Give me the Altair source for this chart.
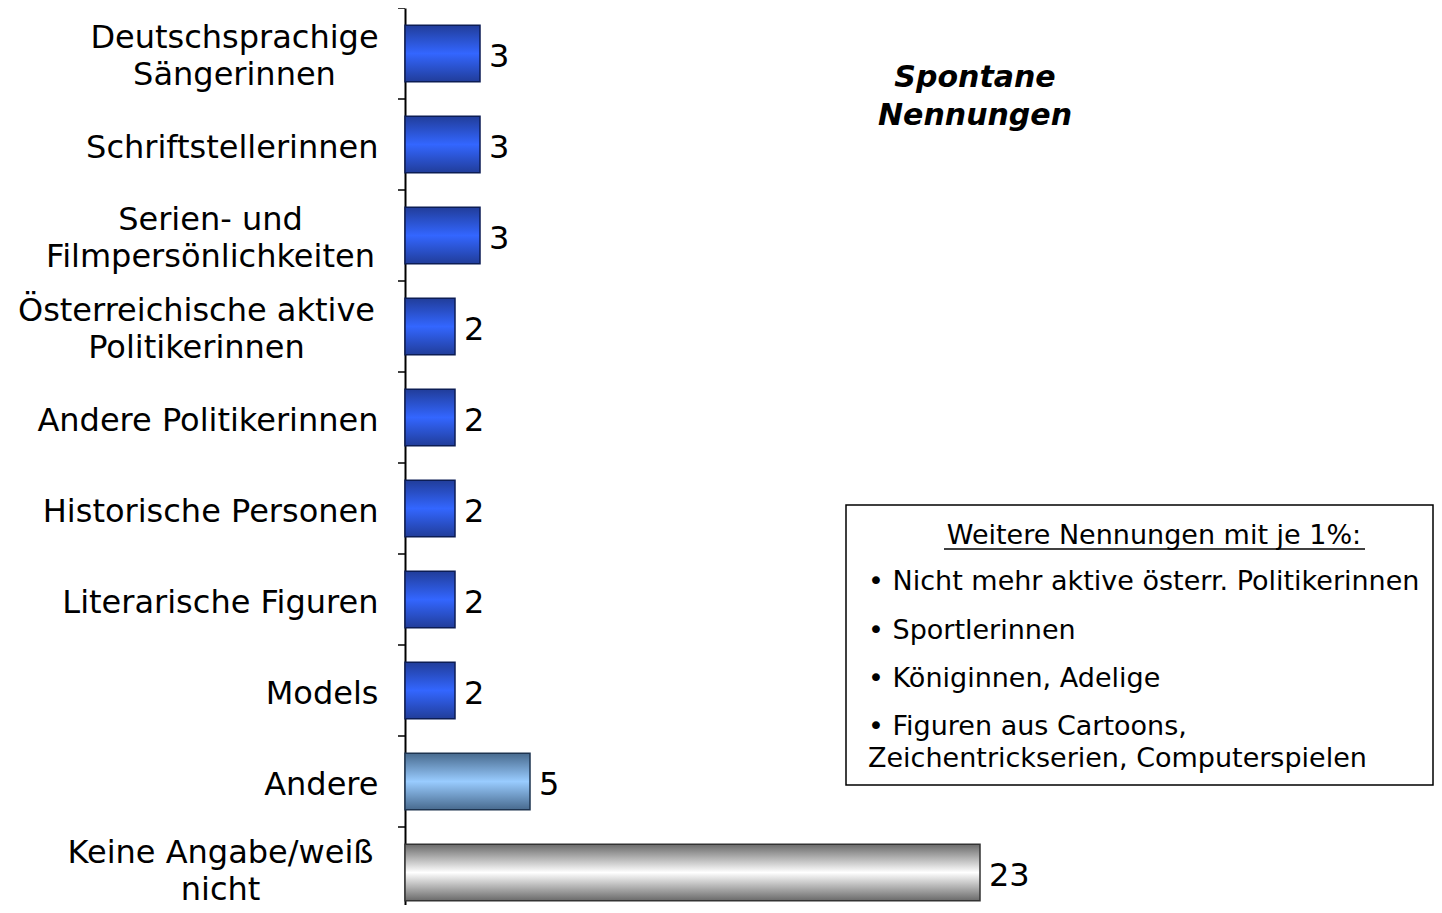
import altair as alt
import pandas as pd

categories = [
    "Deutschsprachige\nSängerinnen",
    "Schriftstellerinnen",
    "Serien- und\nFilmpersönlichkeiten",
    "Österreichische aktive\nPolitikerinnen",
    "Andere Politikerinnen",
    "Historische Personen",
    "Literarische Figuren",
    "Models",
    "Andere",
    "Keine Angabe/weiß\nnicht",
]
values = [3, 3, 3, 2, 2, 2, 2, 2, 5, 23]
groups = ["person"] * 8 + ["andere", "keine"]

note_lines = ["Spontane", "Nennungen"]
box_heading = "Weitere Nennungen mit je 1%:"
box_items = [
    "• Nicht mehr aktive österr. Politikerinnen",
    "• Sportlerinnen",
    "• Königinnen, Adelige",
    "• Figuren aus Cartoons,",
    "Zeichentrickserien, Computerspielen",
]

df = pd.DataFrame({"cat": categories, "value": values, "group": groups})

FONT = "DejaVu Sans"
Y_RANGE = [0, 910]

# label padding for centred two-line labels (distance from axis to block centre)
center_pad = {
    "Deutschsprachige\nSängerinnen": 171,
    "Serien- und\nFilmpersönlichkeiten": 195,
    "Österreichische aktive\nPolitikerinnen": 209,
    "Keine Angabe/weiß\nnicht": 185,
}
pad_expr = " : ".join(
    [f"datum.value == '{k}' ? {v}".replace("\n", "\\n") for k, v in center_pad.items()]
) + " : 27"
multi = "indexof(datum.value, '\\n') >= 0"
last = "datum.value == 'Keine Angabe/weiß\\nnicht'"


def grad(edge, mid):
    return alt.Gradient(
        gradient="linear",
        stops=[
            alt.GradientStop(color=edge, offset=0),
            alt.GradientStop(color=mid, offset=0.5),
            alt.GradientStop(color=edge, offset=1),
        ],
        x1=0, x2=0, y1=0, y2=1,
    )


y_enc = alt.Y(
    "cat:N",
    sort=categories,
    scale=alt.Scale(domain=categories, range=Y_RANGE, paddingInner=0.38, paddingOuter=0.19),
    axis=alt.Axis(
        title=None,
        labelExpr="split(datum.value, '\\n')",
        labelFont=FONT,
        labelFontSize=32,
        labelColor="black",
        labelPadding={"expr": pad_expr},
        labelLineHeight=37,
        labelLimit=600,
        labelOffset={"expr": f"{last} ? -20 : ({multi} ? -16 : 3)"},
        labelAlign={"expr": f"{multi} ? 'center' : 'right'"},
        labelBaseline="middle",
        domainColor="black",
        domainWidth=2,
        ticks=False,
        grid=False,
    ),
)
x_enc = alt.X("value:Q", scale=alt.Scale(domain=[0, 40.88], nice=False, zero=True), axis=None)

base = alt.Chart(df).encode(y=y_enc, x=x_enc)

blue = base.transform_filter(alt.datum.group == "person").mark_bar(
    fill=grad("#213d9a", "#3366ff"), stroke="#0c1d55", strokeWidth=1.5
)
light = base.transform_filter(alt.datum.group == "andere").mark_bar(
    fill=grad("#486a8e", "#99ccff"), stroke="#1e3450", strokeWidth=1.5
)
grey = base.transform_filter(alt.datum.group == "keine").mark_bar(
    fill=grad("#6a6a6a", "#ffffff"), stroke="#333333", strokeWidth=1.5
)
labels = base.mark_text(
    align="left", baseline="middle", dx=9, dy=3, font=FONT, fontSize=32, color="black"
).encode(text="value:Q")

# tick marks at the band boundaries
ticks = alt.Chart(df).mark_rule(color="black", strokeWidth=1.5).encode(
    y=alt.Y(
        "cat:N",
        sort=categories,
        bandPosition=0,
        scale=alt.Scale(domain=categories, range=Y_RANGE, paddingInner=0, paddingOuter=0),
        axis=None,
    ),
    x=alt.value(-7),
    x2=alt.value(0),
)


def text_layer(txt, x, y, **kw):
    return alt.Chart(pd.DataFrame({"t": [txt]})).mark_text(
        font=FONT, color="black", baseline="middle", **kw
    ).encode(text="t:N", x=alt.value(x), y=alt.value(y))


note = [
    text_layer(note_lines[0], 570, 70, fontSize=30, fontWeight="bold", fontStyle="italic", align="center"),
    text_layer(note_lines[1], 570, 108, fontSize=30, fontWeight="bold", fontStyle="italic", align="center"),
]

box = alt.Chart(pd.DataFrame({"a": [0]})).mark_rect(
    fill="white", stroke="black", strokeWidth=1.5
).encode(x=alt.value(441), x2=alt.value(1028), y=alt.value(497), y2=alt.value(777))

heading = text_layer(box_heading, 749, 528, fontSize=27, align="center")
underline = alt.Chart(pd.DataFrame({"a": [0]})).mark_rule(
    color="black", strokeWidth=1.3
).encode(x=alt.value(539), x2=alt.value(960), y=alt.value(541))

item_y = [574, 623, 671, 719, 751]
items = [text_layer(t, 463, yy, fontSize=27, align="left") for t, yy in zip(box_items, item_y)]

bars = alt.layer(blue, light, grey, labels, *note, box, heading, underline, *items)

chart = alt.layer(bars, ticks).resolve_scale(y="independent").properties(
    width=1022,
    height=897,
    padding={"left": 397, "top": 0, "right": 7, "bottom": 0},
    autosize=alt.AutoSizeParams(type="none"),
    background="white",
).configure_view(stroke=None)

chart.save("out.html", embed_options={"renderer": "svg", "actions": False})
